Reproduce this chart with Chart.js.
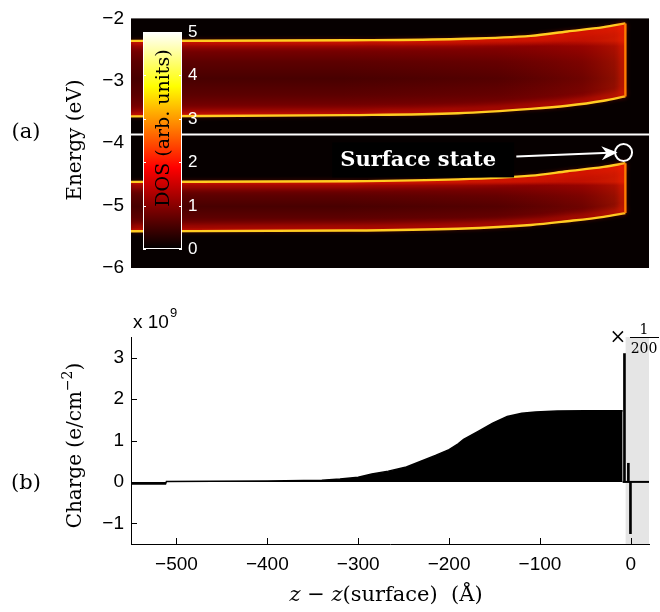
<!DOCTYPE html>
<html>
<head>
<meta charset="utf-8">
<script src="https://cdn.jsdelivr.net/npm/chart.js@4.4.1/dist/chart.umd.min.js"></script>
<style>
  html, body { margin: 0; padding: 0; background: #fff; }
  #wrap { position: relative; width: 660px; height: 612px; }
  #wrap canvas { position: absolute; left: 0; }
  #c-dos { top: 0; }
  #c-charge { top: 290px; }
</style>
</head>
<body>
<div id="wrap">
  <canvas id="c-dos" width="660" height="290"></canvas>
  <canvas id="c-charge" width="660" height="322"></canvas>
</div>
<script>
// ---- panel (a): band edges (z in Å, E in eV) ----
const bandZ    = [-550, -310, -190, -110, -70, -30, -6];
const upperTop = [-2.36, -2.35, -2.33, -2.28, -2.21, -2.14, -2.08];
const upperBot = [-3.57, -3.55, -3.52, -3.45, -3.40, -3.32, -3.25];
const lowerTop = [-4.62, -4.61, -4.58, -4.52, -4.45, -4.38, -4.32];
const lowerBot = [-5.41, -5.40, -5.37, -5.31, -5.25, -5.18, -5.12];
const fermiLevel = -3.86;
const energyTicks = [-6, -5, -4, -3, -2];
const dosTicks = [0, 1, 2, 3, 4, 5];
const surfaceState = { z: -8, e: -4.15 };
const arrowFrom = { z: -126, e: -4.215 };
const labelAt = { z: -234, e: -4.26 };

// ---- panel (b): charge profile (units of 1e9 e/cm^2) ----
const chargeZ = [-550, -512, -511, -460, -400, -340, -320, -300, -285, -267, -247, -231, -215, -200, -190, -184, -168, -152, -136, -120, -105, -81, -50, -20, -9];
const chargeQ = [-0.05, -0.05, 0.01, 0.015, 0.02, 0.04, 0.07, 0.11, 0.19, 0.26, 0.36, 0.5, 0.64, 0.78, 0.92, 1.03, 1.22, 1.42, 1.58, 1.66, 1.69, 1.71, 1.72, 1.72, 1.72];
const surfaceZ = [-7, -2.7, -0.4];
const surfaceQ = [3.1, 0.45, -1.25];   // shown x 1/200
const zTicks = [-500, -400, -300, -200, -100, 0];
const chargeTicks = [-1, 0, 1, 2, 3];
const scaledZone = [-6, 20];

const SANS = '"Liberation Sans", Arial, sans-serif';
const SERIF = '"DejaVu Serif", serif';
const fmt = v => String(v).replace('-', '\u2212');
const pts = (xs, ys) => xs.map((x, i) => ({ x, y: ys[i] }));

function drawRun(ctx, parts, cx, cy, angle){
  ctx.save();
  ctx.translate(cx, cy);
  ctx.rotate(angle || 0);
  ctx.textAlign = 'left';
  ctx.textBaseline = 'alphabetic';
  let total = 0;
  parts.forEach(p => { ctx.font = p.font; p.w = ctx.measureText(p.t).width; total += p.w; });
  let x = -total / 2;
  parts.forEach(p => {
    ctx.font = p.font;
    ctx.fillStyle = p.color || '#000';
    ctx.fillText(p.t, x, p.dy || 0);
    x += p.w;
  });
  ctx.restore();
}

// band interior: brighter near the edges, dark red in the middle
function bandFill(topArr, botArr){
  return (c) => {
    const chart = c.chart;
    if(!chart.chartArea) return '#4c0000';
    const ys = chart.scales.y;
    const g = chart.ctx.createLinearGradient(0, ys.getPixelForValue(topArr[0]), 0, ys.getPixelForValue(botArr[0]));
    g.addColorStop(0, '#c01400');
    g.addColorStop(0.07, '#820000');
    g.addColorStop(0.28, '#5c0000');
    g.addColorStop(0.5, '#480000');
    g.addColorStop(0.72, '#5c0000');
    g.addColorStop(0.93, '#820000');
    g.addColorStop(1, '#c01400');
    return g;
  };
}

// interference region towards the surface: a reddish wash growing to the right
function ringWash(c){
  const chart = c.chart;
  if(!chart.chartArea) return 'rgba(0,0,0,0)';
  const xs = chart.scales.x;
  const g = chart.ctx.createLinearGradient(xs.getPixelForValue(-320), 0, xs.getPixelForValue(-6), 0);
  g.addColorStop(0, 'rgba(160,0,0,0)');
  g.addColorStop(0.55, 'rgba(170,0,0,0.12)');
  g.addColorStop(0.85, 'rgba(200,10,0,0.3)');
  g.addColorStop(1, 'rgba(230,40,0,0.5)');
  return g;
}

function edge(es, glow){
  return {
    data: pts(bandZ, es),
    borderColor: '#ffcc22',
    borderWidth: 2.4,
    pointRadius: 0,
    cubicInterpolationMode: 'monotone',
    fill: false,
    glow,
    order: 1
  };
}

function body(es, target, bg, order){
  return {
    data: pts(bandZ, es),
    borderWidth: 0,
    pointRadius: 0,
    cubicInterpolationMode: 'monotone',
    fill: target,
    backgroundColor: bg,
    order
  };
}

function cap(topArr, botArr){
  const z = bandZ[bandZ.length - 1];
  return { data: [{ x: z, y: topArr[topArr.length - 1] }, { x: z, y: botArr[botArr.length - 1] }],
    borderColor: '#ff7a00', borderWidth: 2.4, pointRadius: 0, fill: false, glow: 0, order: 1 };
}

const glowPlugin = {
  id: 'glow',
  beforeDatasetDraw(chart, args){
    const ds = chart.data.datasets[args.index];
    if(ds.glow === undefined) return;
    const ctx = chart.ctx;
    ctx.save();
    ctx.shadowColor = 'rgba(255,30,0,0.95)';
    ctx.shadowBlur = 6;
    ctx.shadowOffsetX = ds.glow === 0 ? -3 : 0;
    ctx.shadowOffsetY = ds.glow;
  },
  afterDatasetDraw(chart, args){
    const ds = chart.data.datasets[args.index];
    if(ds.glow !== undefined) chart.ctx.restore();
  }
};

const dosDecor = {
  id: 'dosDecor',
  beforeDatasetsDraw(chart){
    const { ctx, chartArea: a } = chart;
    ctx.save();
    ctx.fillStyle = '#060000';
    ctx.fillRect(a.left, a.top, a.right - a.left, a.bottom - a.top);
    ctx.restore();
  },
  afterDatasetsDraw(chart){
    const { ctx } = chart;
    const xs = chart.scales.x, ys = chart.scales.y;

    // label with black box
    const lx = xs.getPixelForValue(labelAt.z), ly = ys.getPixelForValue(labelAt.e);
    ctx.save();
    ctx.font = 'bold 21px ' + SERIF;
    const tw = ctx.measureText('Surface state').width;
    ctx.fillStyle = '#000';
    ctx.fillRect(lx - tw / 2 - 8, ly - 17, tw + 16 + 10, 35);
    ctx.fillStyle = '#fff';
    ctx.textAlign = 'center';
    ctx.textBaseline = 'middle';
    ctx.fillText('Surface state', lx, ly + 1);

    // arrow to the surface state
    const x0 = xs.getPixelForValue(arrowFrom.z), y0 = ys.getPixelForValue(arrowFrom.e);
    const cx = xs.getPixelForValue(surfaceState.z), cy = ys.getPixelForValue(surfaceState.e);
    const x1 = cx - 6, y1 = cy;
    ctx.strokeStyle = '#fff';
    ctx.lineWidth = 2;
    ctx.beginPath(); ctx.moveTo(x0, y0); ctx.lineTo(x1 - 8, y1 + 0.3); ctx.stroke();
    const ang = Math.atan2(y1 - y0, x1 - x0);
    ctx.save();
    ctx.translate(x1, y1); ctx.rotate(ang);
    ctx.fillStyle = '#fff';
    ctx.beginPath();
    ctx.moveTo(0, 0); ctx.lineTo(-16, -7); ctx.lineTo(-11, 0); ctx.lineTo(-16, 7); ctx.closePath();
    ctx.fill();
    ctx.restore();
    ctx.beginPath(); ctx.arc(cx, cy, 8.5, 0, Math.PI * 2); ctx.stroke();

    // colour bar (hot map)
    const bx = 143, bw = 39, bTop = 32, bBot = 249;
    const g = ctx.createLinearGradient(0, bBot, 0, bTop);
    g.addColorStop(0, '#000000');
    g.addColorStop(0.375, '#ff0000');
    g.addColorStop(0.75, '#ffff00');
    g.addColorStop(1, '#ffffff');
    ctx.fillStyle = g;
    ctx.fillRect(bx, bTop, bw, bBot - bTop);
    ctx.strokeStyle = '#fff';
    ctx.lineWidth = 1;
    ctx.strokeRect(bx + 0.5, bTop + 0.5, bw - 1, bBot - bTop - 1);
    ctx.font = '17px ' + SANS;
    ctx.textAlign = 'left';
    ctx.textBaseline = 'middle';
    const dmax = dosTicks[dosTicks.length - 1];
    dosTicks.forEach(v => {
      const y = Math.round(bBot - v / dmax * (bBot - bTop)) + 0.5;
      ctx.beginPath();
      ctx.moveTo(bx, y); ctx.lineTo(bx + 3, y);
      ctx.moveTo(bx + bw - 3, y); ctx.lineTo(bx + bw, y);
      ctx.stroke();
      ctx.fillStyle = '#fff';
      ctx.fillText(String(v), bx + bw + 6, y);
    });
    ctx.restore();
    drawRun(ctx, [{ t: 'DOS (arb. units)', font: '19px ' + SERIF }], bx + bw / 2 + 6, 128, -Math.PI / 2);
  },
  afterDraw(chart){
    const ctx = chart.ctx;
    drawRun(ctx, [{ t: 'Energy (eV)', font: '20px ' + SERIF }], 81, 140, -Math.PI / 2);
    drawRun(ctx, [{ t: '(a)', font: '21px ' + SERIF }], 26, 138, 0);
  }
};

new Chart(document.getElementById('c-dos'), {
  type: 'line',
  data: {
    datasets: [
      { data: [{ x: -550, y: fermiLevel }, { x: 20, y: fermiLevel }], borderColor: '#fff', borderWidth: 2, pointRadius: 0, fill: false, order: 0 },
      cap(upperTop, upperBot),        // 1
      cap(lowerTop, lowerBot),        // 2
      edge(upperTop, 3),              // 3
      edge(upperBot, -3),             // 4
      edge(lowerTop, 3),              // 5
      edge(lowerBot, -3),             // 6
      body(upperBot, 3, bandFill(upperTop, upperBot), 3),
      body(lowerBot, 5, bandFill(lowerTop, lowerBot), 3),
      body(upperBot, 3, ringWash, 2),
      body(lowerBot, 5, ringWash, 2)
    ]
  },
  options: {
    responsive: false,
    animation: false,
    events: [],
    layout: { padding: { top: 12, right: 11, bottom: 22, left: 0 } },
    plugins: { legend: { display: false }, tooltip: { enabled: false } },
    scales: {
      x: { type: 'linear', min: -550, max: 20, display: false },
      y: {
        type: 'linear', min: -6, max: -2,
        afterBuildTicks: s => { s.ticks = energyTicks.map(v => ({ value: v })); },
        afterFit: s => { s.width = 131; },
        grid: { display: false, drawTicks: false },
        border: { display: false },
        ticks: { color: '#000', padding: 7, font: { family: SANS, size: 19 }, callback: v => fmt(v) }
      }
    }
  },
  plugins: [glowPlugin, dosDecor]
});

const chargeDecor = {
  id: 'chargeDecor',
  afterDatasetsDraw(chart){
    const { ctx, chartArea: a } = chart;
    const xs = chart.scales.x, ys = chart.scales.y;
    ctx.save();
    ctx.strokeStyle = '#000';
    ctx.lineWidth = 1;
    ctx.beginPath();
    zTicks.forEach(v => {
      const x = Math.round(xs.getPixelForValue(v)) + 0.5;
      ctx.moveTo(x, a.bottom); ctx.lineTo(x, a.bottom - 6);
    });
    chargeTicks.forEach(v => {
      const y = Math.round(ys.getPixelForValue(v)) + 0.5;
      ctx.moveTo(a.left, y); ctx.lineTo(a.left + 6, y);
    });
    ctx.stroke();
    ctx.restore();
  },
  afterDraw(chart){
    const ctx = chart.ctx;
    const a = chart.chartArea;
    // exponent
    ctx.save();
    ctx.fillStyle = '#000';
    ctx.textBaseline = 'alphabetic';
    ctx.font = '19px ' + SANS;
    ctx.fillText('x 10', 133, 38);
    const w = ctx.measureText('x 10').width;
    ctx.font = '13px ' + SANS;
    ctx.fillText('9', 133 + w + 1, 27);
    // x 1/200
    ctx.font = '20px ' + SERIF;
    ctx.textAlign = 'center';
    ctx.fillText('\u00d7', 618, 53);
    ctx.font = '14px ' + SERIF;
    ctx.fillText('1', 644, 44);
    ctx.fillText('200', 644, 63);
    ctx.fillRect(630, 47, 29, 1);
    ctx.restore();

    drawRun(ctx, [
      { t: 'Charge (e/cm', font: '20px ' + SERIF },
      { t: '\u22122', font: '14px ' + SERIF, dy: -9 },
      { t: ')', font: '20px ' + SERIF }
    ], 81, (a.top + a.bottom) / 2 + 5, -Math.PI / 2);
    drawRun(ctx, [{ t: '(b)', font: '21px ' + SERIF }], 26, 199, 0);
    drawRun(ctx, [
      { t: 'z', font: 'italic 21px ' + SERIF },
      { t: ' \u2212 ', font: '21px ' + SERIF },
      { t: 'z', font: 'italic 21px ' + SERIF },
      { t: '(surface)  (\u00c5)', font: '21px ' + SERIF }
    ], (a.left + a.right) / 2 - 4, 311, 0);
  }
};

new Chart(document.getElementById('c-charge'), {
  type: 'line',
  data: {
    datasets: [
      { type: 'bar', data: pts(surfaceZ, surfaceQ), backgroundColor: '#000', barThickness: 2, order: 0 },
      { data: [{ x: -9, y: 0 }, { x: 20, y: 0 }], borderColor: '#000', borderWidth: 2, pointRadius: 0, fill: false, order: 1 },
      { data: pts(chargeZ, chargeQ), borderColor: '#000', borderWidth: 1.5, backgroundColor: '#000', fill: 'origin', pointRadius: 0, order: 2 },
      { data: [{ x: scaledZone[0], y: 3.5 }, { x: scaledZone[1], y: 3.5 }], borderWidth: 0, backgroundColor: '#e5e5e5', fill: 'start', pointRadius: 0, order: 3 }
    ]
  },
  options: {
    responsive: false,
    animation: false,
    events: [],
    layout: { padding: { top: 47, right: 11, bottom: 0, left: 0 } },
    plugins: { legend: { display: false }, tooltip: { enabled: false } },
    scales: {
      x: {
        type: 'linear', min: -550, max: 20, offset: false,
        afterBuildTicks: s => { s.ticks = zTicks.map(v => ({ value: v })); },
        afterFit: s => { s.height = 68; },
        grid: { display: false, drawTicks: false },
        border: { display: true, color: '#000', width: 1 },
        ticks: { color: '#000', padding: 9, maxRotation: 0, font: { family: SANS, size: 19 }, callback: v => fmt(v) }
      },
      y: {
        type: 'linear', min: -1.5, max: 3.5,
        afterBuildTicks: s => { s.ticks = chargeTicks.map(v => ({ value: v })); },
        afterFit: s => { s.width = 131; },
        grid: { display: false, drawTicks: false },
        border: { display: true, color: '#000', width: 1 },
        ticks: { color: '#000', padding: 7, font: { family: SANS, size: 19 }, callback: v => fmt(v) }
      }
    }
  },
  plugins: [chargeDecor]
});
</script>
</body>
</html>
